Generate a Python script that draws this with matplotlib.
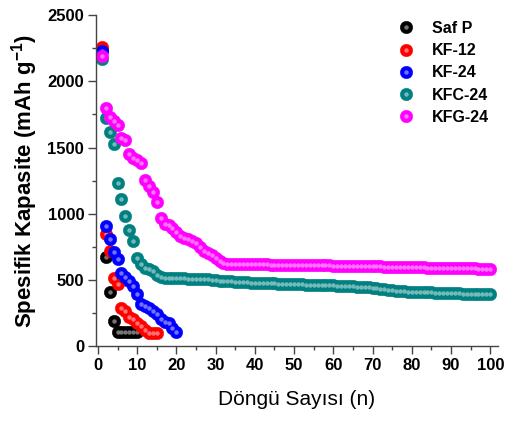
import numpy as np
import matplotlib
matplotlib.use("Agg")
import matplotlib.pyplot as plt
from matplotlib.legend_handler import HandlerTuple
from matplotlib.colors import to_rgb

plt.rcParams['font.family'] = ['Liberation Sans', 'DejaVu Sans']
plt.rcParams['mathtext.fontset'] = 'custom'
plt.rcParams['mathtext.bf'] = 'Liberation Sans:bold'
plt.rcParams['mathtext.rm'] = 'Liberation Sans:bold'

# capacity values (mAh/g) read per cycle
saf_p = [2240, 670, 410, 190, 110, 110, 110, 110, 110, 110]
kf_12 = [2260, 845, 720, 515, 470, 288, 265, 222, 205, 175, 152, 122, 100, 100, 100]
kf_24 = [2230, 909, 811, 712, 659, 553, 523, 492, 455, 394, 318, 303, 288,
         265, 242, 205, 182, 174, 136, 108]
kfc_24 = [2170, 1720, 1620, 1530, 1235, 1113, 985, 877, 795, 667, 622, 591,
          583, 568, 538, 518, 515, 515, 514, 513, 512, 511, 510, 509, 508,
          507, 505, 503, 500, 498, 495, 493, 491, 489, 487, 485, 483, 481,
          480, 479, 477, 476, 475, 474, 473, 472, 471, 470, 469, 468, 467,
          466, 465, 464, 463, 462, 461, 460, 459, 458, 457, 456, 455, 453,
          451, 449, 447, 445, 443, 441, 438, 434, 430, 426, 422, 419, 416,
          414, 412, 410, 409, 408, 407, 406, 405, 404, 403, 402, 401, 400,
          399, 398, 397, 396, 395, 395, 394, 394, 393, 393]
kfg_24 = [2190, 1800, 1730, 1700, 1670, 1570, 1555, 1450, 1420, 1405, 1385,
          1258, 1210, 1162, 1085, 965, 925, 915, 895, 860, 835, 820, 810,
          795, 775, 745, 720, 700, 685, 668, 645, 625, 622, 621, 621, 620,
          620, 619, 619, 618, 618, 617, 617, 616, 616, 615, 615, 614, 614,
          613, 613, 612, 612, 611, 611, 610, 610, 609, 609, 608, 608, 607,
          607, 606, 606, 605, 605, 604, 604, 603, 603, 602, 601, 600, 599,
          598, 597, 596, 596, 595, 595, 594, 594, 593, 593, 592, 592, 591,
          590, 589, 589, 588, 588, 587, 587, 586, 585, 585, 584, 583]

labels = ['Saf P', 'KF-12', 'KF-24', 'KFC-24', 'KFG-24']
colors = ['#000000', '#ff0000', '#0000ff', '#008080', '#ff00ff']
series = [saf_p, kf_12, kf_24, kfc_24, kfg_24]

fig = plt.figure(figsize=(5.09, 4.21), dpi=100)
ax = fig.add_axes([0.1886, 0.178, 0.790, 0.786])

handles = []
for vals, c, lab in zip(series, colors, labels):
    cyc = np.arange(1, len(vals) + 1)
    light = tuple(0.5 * np.array(to_rgb(c)) + 0.5)
    base, = ax.plot(cyc, vals, 'o', ms=9, color=c, mec=c, mew=0.3)
    hi, = ax.plot(cyc, vals, 'o', ms=3.2, color=light, mew=0, alpha=0.9)
    handles.append((base, hi))

ax.set_xlim(-0.5, 102)
ax.set_ylim(0, 2500)
ax.set_xticks(np.arange(0, 101, 10))
ax.set_xticks(np.arange(0, 101, 5), minor=True)
ax.set_yticks(np.arange(0, 2501, 500))
ax.set_yticks(np.arange(0, 2501, 250), minor=True)

for s in ['top', 'right']:
    ax.spines[s].set_visible(False)
for s in ['left', 'bottom']:
    ax.spines[s].set_color('#444444')
    ax.spines[s].set_linewidth(1.0)

ax.tick_params(which='major', length=5.5, width=1.0, color='#444444',
               labelsize=12, pad=3)
ax.tick_params(which='minor', length=3, width=1.0, color='#444444')
for t in ax.get_xticklabels() + ax.get_yticklabels():
    t.set_fontweight('bold')

ax.set_xlabel('Döngü Sayısı (n)', fontsize=15, labelpad=12)
ax.set_ylabel(r'Spesifik Kapasite (mAh g$^{-1}$)', fontsize=16,
              fontweight='bold', labelpad=5)

leg = ax.legend(handles, labels, handler_map={tuple: HandlerTuple(ndivide=1)},
                loc='upper left', bbox_to_anchor=(398 / 509, 1 - 21 / 421),
                bbox_transform=fig.transFigure, frameon=False,
                prop={'weight': 'bold', 'size': 11.5}, handletextpad=1.1,
                handlelength=1.0, labelspacing=0.45, borderpad=0.0,
                borderaxespad=0.0)

fig.savefig('out.png', dpi=100)
